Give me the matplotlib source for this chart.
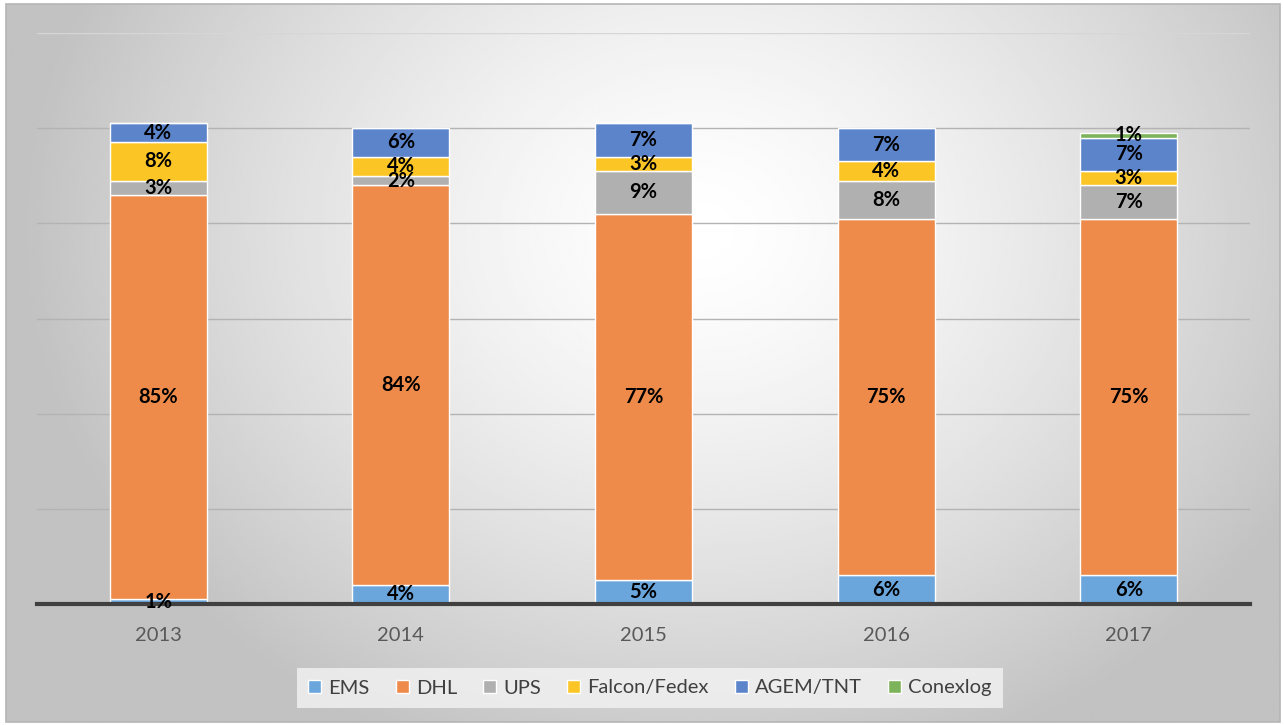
import numpy as np
import matplotlib
matplotlib.use("Agg")
import matplotlib.pyplot as plt
from matplotlib.patches import Rectangle

plt.rcParams['font.family'] = ['Lato', 'DejaVu Sans']

# ==========================================
# DATA
# ==========================================
years = ['2013', '2014', '2015', '2016', '2017']
carriers = ['EMS', 'DHL', 'UPS', 'Falcon/Fedex', 'AGEM/TNT', 'Conexlog']
ems = [1, 4, 5, 6, 6]
dhl = [85, 84, 77, 75, 75]
ups = [3, 2, 9, 8, 7]
fedex = [8, 4, 3, 4, 3]
agem = [4, 6, 7, 7, 7]
conexlog = [0, 0, 0, 0, 1]
series = [ems, dhl, ups, fedex, agem, conexlog]
colors = ['#6aa5db', '#ee8b4b', '#b0b0b0', '#fcc526', '#5b84cb', '#7db35a']

W, H = 1284, 725
fig = plt.figure(figsize=(W / 100, H / 100), dpi=100)

# radial gradient background inside a thin frame
bg = fig.add_axes([0, 0, 1, 1])
bg.set_xlim(0, W)
bg.set_ylim(H, 0)
bg.axis('off')
xx, yy = np.meshgrid(np.linspace(6, 1280, 400), np.linspace(4, 722, 240))
r = np.sqrt(((xx - 700) / 720) ** 2 + ((yy - 230) / 600) ** 2)
shade = np.clip(1.0 - 0.26 * r ** 1.4, 0.76, 1.0)
bg.imshow(shade, cmap='gray', vmin=0, vmax=1, extent=[6, 1280, 722, 4],
          interpolation='bilinear', zorder=0)
bg.add_patch(Rectangle((6, 4), 1274, 718, fill=False, edgecolor='#b5b5b5', lw=1.2, zorder=1))

ax = fig.add_axes([37 / W, 1 - 604 / H, 1213 / W, 571 / H])
ax.patch.set_alpha(0)

x = np.arange(len(years))
bottom = np.zeros(len(years))
handles = []
for name, vals, col in zip(carriers, series, colors):
    vals = np.array(vals, dtype=float)
    bars = ax.bar(x, vals, width=0.4, bottom=bottom, color=col, edgecolor='white',
                  linewidth=1, label=name, zorder=3)
    handles.append(bars)
    for xi, b, v in zip(x, bottom, vals):
        if v > 0:
            ax.text(xi, b + v / 2, f'{int(v)}%', ha='center', va='center',
                    fontsize=14.5, fontweight='bold', color='black', zorder=5)
    bottom += vals

ax.set_xlim(-0.5, len(years) - 0.5)
ax.set_ylim(0, 120)
ax.set_yticks(np.arange(0, 121, 20))
ax.yaxis.grid(True, color='#b3b3b3', linewidth=1, zorder=0)
ax.get_ygridlines()[-1].set_color('#d6d6d6')
ax.set_axisbelow(True)
ax.tick_params(axis='y', left=False, labelleft=False)
ax.tick_params(axis='x', bottom=False, labelsize=14.5, labelcolor='#595959', pad=13)
ax.set_xticks(x)
ax.set_xticklabels(years)
for s in ['top', 'right', 'left']:
    ax.spines[s].set_visible(False)
ax.spines['bottom'].set_color('#404040')
ax.spines['bottom'].set_linewidth(3)
ax.spines['bottom'].set_zorder(4)

leg = fig.legend(handles=handles, labels=carriers, loc='center', ncol=6,
                 bbox_to_anchor=(650 / W, 1 - 688 / H), frameon=True, fancybox=False,
                 fontsize=14.5, handlelength=0.65, handleheight=0.65, handletextpad=0.35,
                 columnspacing=1.3, borderpad=0.55)
leg.get_frame().set_facecolor('#f3f3f3')
leg.get_frame().set_edgecolor('none')
for t in leg.get_texts():
    t.set_color('#404040')

fig.savefig('out.png', dpi=100, facecolor='white')
